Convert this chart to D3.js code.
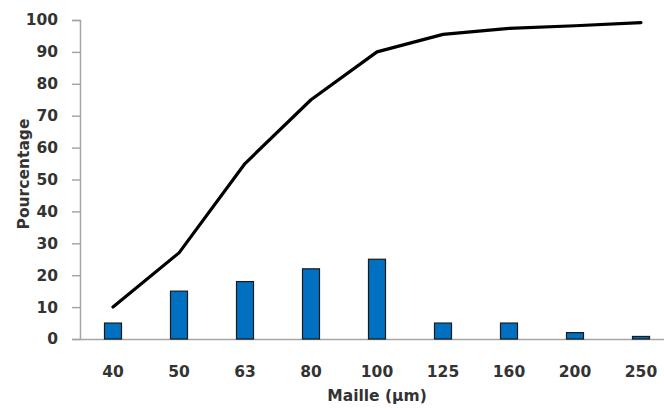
<!DOCTYPE html>
<html><head><meta charset="utf-8">
<script src="https://cdn.jsdelivr.net/npm/d3@7"></script>
<style>body{margin:0;background:#fff;}svg{display:block;}</style>
</head><body>
<svg id="c" width="664" height="412"></svg>
<script>
const categories = ["40","50","63","80","100","125","160","200","250"];
const barValues = [5, 15, 18, 22, 25, 5, 5, 2, 0.8];
const cumulValues = [10, 27, 55, 75, 90, 95.5, 97.4, 98.2, 99.2];
const yTicks = [0,10,20,30,40,50,60,70,80,90,100];

const svg = d3.select("#c");
const font = "'DejaVu Sans', sans-serif";
const fs = 15.5;
const x0 = 80, x1 = 674, yTop = 20, yBot = 339;

const x = d3.scaleBand().domain(categories).range([x0, x1]).padding(0);
const y = d3.scaleLinear().domain([0, 100]).range([yBot, yTop]);

// y axis
const ya = svg.append("g").attr("transform", `translate(${x0},0)`)
  .call(d3.axisLeft(y).tickValues(yTicks).tickSize(8).tickPadding(14));
ya.select(".domain").attr("stroke", "#a6a6a6").attr("stroke-width", 1.5);
ya.selectAll(".tick line").attr("stroke", "#a6a6a6").attr("stroke-width", 1.5);
ya.selectAll(".tick text").attr("font-family", font).attr("font-size", fs)
  .attr("font-weight", "bold").attr("fill", "#333");

// x axis
const xa = svg.append("g").attr("transform", `translate(0,${yBot})`)
  .call(d3.axisBottom(x).tickSize(0).tickPadding(27));
xa.select(".domain").attr("stroke", "#a6a6a6").attr("stroke-width", 1.5);
xa.selectAll(".tick text").attr("font-family", font).attr("font-size", fs)
  .attr("font-weight", "bold").attr("fill", "#333");

// bars
const bw = 17;
svg.append("g").selectAll("rect").data(categories).join("rect")
  .attr("x", d => x(d) + x.bandwidth()/2 - bw/2)
  .attr("y", (d,i) => y(barValues[i]))
  .attr("width", bw)
  .attr("height", (d,i) => yBot - y(barValues[i]))
  .attr("fill", "#0070c0").attr("stroke", "#1a1a1a").attr("stroke-width", 1.2);

// line
const line = d3.line().x((d,i) => x(categories[i]) + x.bandwidth()/2).y(d => y(d));
svg.append("path").datum(cumulValues).attr("d", line)
  .attr("fill", "none").attr("stroke", "#000").attr("stroke-width", 3.2)
  .attr("stroke-linejoin", "round").attr("stroke-linecap", "round");

// axis titles
svg.append("text").attr("x", 377).attr("y", 401).attr("text-anchor", "middle")
  .attr("font-family", font).attr("font-size", fs).attr("font-weight", "bold").attr("fill", "#333")
  .text("Maille (µm)");
svg.append("text").attr("transform", "translate(29,174) rotate(-90)").attr("text-anchor", "middle")
  .attr("font-family", font).attr("font-size", fs).attr("font-weight", "bold").attr("fill", "#333")
  .text("Pourcentage");
</script>
</body></html>
